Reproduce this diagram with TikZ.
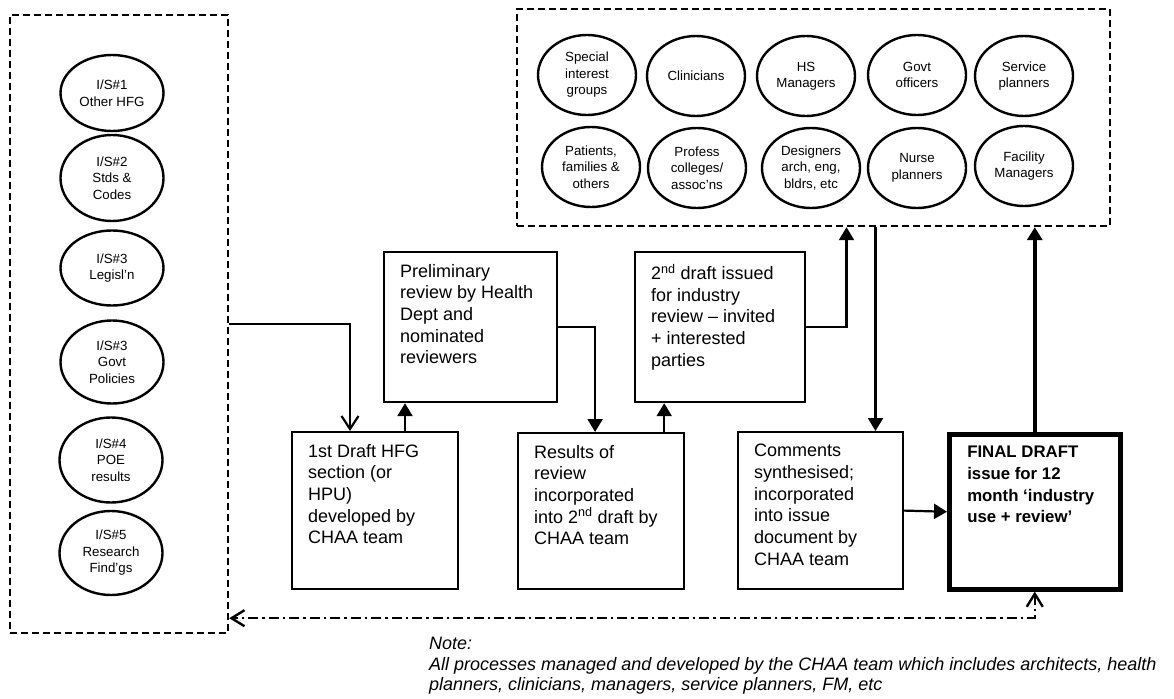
\documentclass[tikz,border=0pt]{standalone}
\usepackage{fontspec}
\setmainfont{Liberation Sans}
\usetikzlibrary{shapes.geometric,arrows.meta}

\newcommand{\boxtext}[3]{\parbox[c][#2][t]{#1}{\raggedright #3}}

\tikzset{
  proc/.style={draw, line width=2.2pt, anchor=north west, inner xsep=16pt, inner ysep=12pt,
    font=\fontsize{18}{21.7}\selectfont},
  party/.style={draw, ellipse, line width=2.4pt, inner sep=0pt, align=center,
    minimum width=98pt, minimum height=80pt, font=\fontsize{13.3}{16.5}\selectfont},
  source/.style={party, minimum width=103pt},
  group/.style={draw, line width=2.4pt, dash pattern=on 7pt off 4pt, inner sep=0pt},
  flow/.style={line width=2.2pt, -{Triangle[length=13pt,width=15pt]}},
  feed/.style={line width=2.2pt, -{Straight Barb[length=13pt,width=17pt]}},
  recycle/.style={line width=2.4pt, dash pattern=on 10pt off 4pt on 2.5pt off 4pt,
    {Straight Barb[length=13pt,width=16pt]}-{Straight Barb[length=13pt,width=16pt]}},
  note/.style={anchor=north west, align=left, inner sep=0pt,
    font=\fontsize{18}{20.5}\selectfont\itshape}
}

\begin{document}
\begin{tikzpicture}[x=1pt,y=-1pt,line cap=butt,line join=miter]
  \useasboundingbox (0,0) rectangle (1174,698);

  % information sources
  \node[group, minimum width=218pt, minimum height=618pt] (inputs) at (119,324) {};
  \node[source, minimum height=76pt] (is1) at (112,93) {I/S\#1\\Other HFG};
  \node[source, minimum height=86pt] (is2) at (112,178) {I/S\#2\\Stds \&\\Codes};
  \node[source, minimum height=75pt] (is3) at (112,268) {I/S\#3\\Legisl’n};
  \node[source, minimum height=83pt] (is4) at (112,362) {I/S\#3\\Govt\\Policies};
  \node[source, minimum height=85pt] (is5) at (111,460) {I/S\#4\\POE\\results};
  \node[source, minimum height=84pt] (is6) at (111,553) {I/S\#5\\Research\\Find’gs};

  % reviewers
  \node[group, minimum width=593pt, minimum height=217pt] (stake) at (813.5,117.5) {};
  \node[party] (special) at (587,75) {Special\\interest\\groups};
  \node[party] (clin) at (696,76) {Clinicians};
  \node[party] (hsman) at (806,76) {HS\\Managers};
  \node[party] (govt) at (917,75) {Govt\\officers};
  \node[party] (servpl) at (1024,76) {Service\\planners};
  \node[party] (patients) at (591,167) {Patients,\\families \&\\others};
  \node[party] (colleges) at (697,168) {Profess\\colleges/\\assoc’ns};
  \node[party] (designers) at (811,168) {Designers\\arch, eng,\\bldrs, etc};
  \node[party] (nursepl) at (917,168) {Nurse\\planners};
  \node[party] (facman) at (1024,166) {Facility\\Managers};

  % process boxes
  \node[proc] (draft1) at (291,431) {\boxtext{134pt}{133pt}{1st Draft HFG\\section (or\\HPU)\\developed by\\CHAA team}};
  \node[proc] (prelim) at (383,251) {\boxtext{141pt}{126pt}{Preliminary\\review by Health\\Dept and\\nominated\\reviewers}};
  \node[proc] (results) at (517,432) {\boxtext{134pt}{132pt}{Results of\\review\\incorporated\\into 2\textsuperscript{nd} draft by\\CHAA team}};
  \node[proc] (draft2) at (634,251) {\boxtext{138pt}{126pt}{2\textsuperscript{nd} draft issued\\for industry\\review – invited\\+ interested\\parties}};
  \node[proc] (comments) at (737,431) {\boxtext{133pt}{133pt}{Comments\\synthesised;\\incorporated\\into issue\\document by\\CHAA team}};
  \node[proc, line width=4.5pt, inner xsep=18pt] (final) at (947,432) {\boxtext{135pt}{131pt}{\bfseries\fontsize{16.8}{21.7}\selectfont FINAL DRAFT\\issue for 12\\month ‘industry\\use + review’}};

  % connectors
  \coordinate (d1up) at ([xshift=114pt]draft1.north west);
  \coordinate (r2up) at ([xshift=-21pt]results.north east);
  \coordinate (s2c) at ([xshift=62pt]stake.south);
  \draw[feed] (inputs.east) -| ([xshift=59pt]draft1.north west);
  \draw[flow] (d1up) -- (d1up |- prelim.south);
  \draw[flow] (prelim.east) -| ([xshift=-6pt]results.north);
  \draw[flow] (r2up) -- (r2up |- draft2.south);
  \draw[flow] (draft2.east) -| ([xshift=33pt]stake.south);
  \draw[flow] (s2c) -- (s2c |- comments.north);
  \draw[flow] (comments.east) -- (final.west);
  \draw[flow, line width=4pt] (final.north) -- (final.north |- stake.south);
  \draw[recycle] (final.south) |- ([yshift=16pt]inputs.south east);

  \node[note] (remark) at (429,637) {Note:\\All processes managed and developed by the CHAA team which includes architects, health\\planners, clinicians, managers, service planners, FM, etc};
\end{tikzpicture}
\end{document}
